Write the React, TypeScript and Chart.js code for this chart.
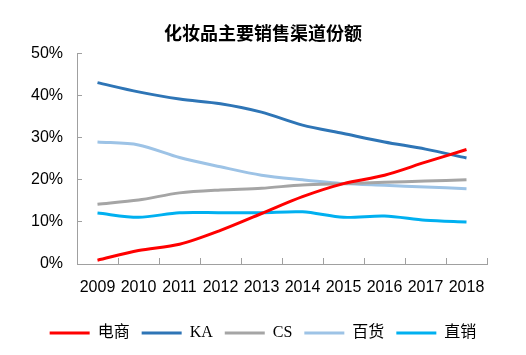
import React, { useEffect, useRef } from "react";
import { Chart, registerables } from "chart.js";

Chart.register(...registerables);

const years = ["2009", "2010", "2011", "2012", "2013", "2014", "2015", "2016", "2017", "2018"];
const ecommerce = [0.9, 3.2, 4.7, 8, 12, 16, 19.1, 21.1, 24.2, 27.2];
const ka = [43.1, 40.9, 39.2, 38.1, 36.1, 33, 31, 29, 27.3, 25.2];
const cs = [14.2, 15.2, 16.9, 17.6, 18, 18.8, 19.1, 19.4, 19.7, 20];
const dept = [29, 28.3, 25.3, 23.1, 21.1, 20, 19.1, 18.7, 18.3, 17.9];
const direct = [12.1, 11.1, 12.2, 12.2, 12.2, 12.4, 11.1, 11.4, 10.4, 10];
const seriesNames = ["电商", "KA", "CS", "百货", "直销"];
const yTickValues = [0, 10, 20, 30, 40, 50];

const colors = ["#FF0000", "#2E75B6", "#A5A5A5", "#9DC3E6", "#00B0F0"];
const axisColor = "#A0A0A0";

export default function App() {
  const ref = useRef<HTMLCanvasElement | null>(null);

  useEffect(() => {
    if (!ref.current) return;
    const data = [ecommerce, ka, cs, dept, direct];
    const chart = new Chart(ref.current, {
      type: "line",
      data: {
        labels: years,
        datasets: seriesNames.map((name, i) => ({
          label: name,
          data: data[i],
          borderColor: colors[i],
          backgroundColor: colors[i],
          borderWidth: 3,
          pointRadius: 0,
          tension: 0.3,
          fill: false,
          yAxisID: "y",
        })),
      },
      options: {
        responsive: false,
        animation: false,
        devicePixelRatio: 1,
        layout: { padding: { top: 0, left: 0, right: 0, bottom: 4 } },
        plugins: {
          title: {
            display: true,
            text: "化妆品主要销售渠道份额",
            color: "#000",
            font: { size: 18, weight: "bold", family: "'Noto Sans CJK SC', sans-serif" },
            padding: { top: 22, bottom: 10 },
          },
          legend: {
            position: "bottom",
            labels: {
              usePointStyle: true,
              pointStyle: "line",
              pointStyleWidth: 40,
              padding: 12,
              color: "#000",
              font: { size: 16, family: "'Liberation Serif', 'Noto Sans CJK SC', serif" },
            },
          },
          tooltip: { enabled: false },
        },
        scales: {
          x: {
            type: "category",
            offset: true,
            grid: { offset: true, drawOnChartArea: false, tickLength: -6, color: axisColor },
            border: { color: axisColor, width: 1 },
            ticks: {
              autoSkip: false,
              maxRotation: 0,
              padding: 20,
              color: "#000",
              font: { size: 16, family: "'Liberation Sans', Arial, sans-serif" },
            },
            afterFit: (s: any) => {
              s.height = 49;
            },
          },
          y: {
            min: 0,
            max: 50,
            afterBuildTicks: (s: any) => {
              s.ticks = yTickValues.map((v) => ({ value: v }));
            },
            grid: { drawOnChartArea: false, tickLength: -5, color: axisColor },
            border: { color: axisColor, width: 1 },
            ticks: {
              padding: 19,
              color: "#000",
              font: { size: 16, family: "'Liberation Sans', Arial, sans-serif" },
              callback: (v: any) => v + "%",
            },
            afterFit: (s: any) => {
              s.width = 77;
            },
          },
          yRight: {
            position: "right",
            min: 0,
            max: 50,
            grid: { display: false, drawTicks: false },
            border: { display: false },
            ticks: { display: false },
            afterFit: (s: any) => {
              s.width = 39;
            },
          },
        },
      },
    });
    return () => chart.destroy();
  }, []);

  return (
    <div style={{ position: "fixed", left: 0, top: 0, width: 526, height: 355, background: "#fff" }}>
      <canvas ref={ref} width={526} height={355} />
    </div>
  );
}
